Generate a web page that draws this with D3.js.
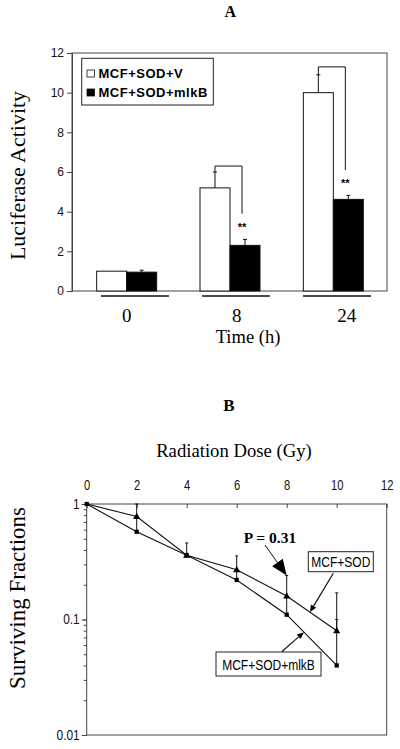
<!DOCTYPE html>
<html><head><meta charset="utf-8">
<script src="https://cdn.jsdelivr.net/npm/d3@7"></script>
<style>
body{margin:0;background:#fff;}
svg{display:block;}
</style></head><body>
<svg id="c" width="400" height="749"></svg>
<script>
// ---------- Panel A data ----------
const timeCategories = ["0", "8", "24"];
const seriesNamesA = ["MCF+SOD+V", "MCF+SOD+mlkB"];
const vectorValues = [1.0, 5.2, 10.0];
const mlkbValues = [0.95, 2.3, 4.62];
const vectorErrTop = [1.0, 6.0, 10.9];
const mlkbErrTop = [1.05, 2.6, 4.82];
const bracketTop = [null, 6.3, 11.3];
const bracketEnd = [null, 3.9, 6.1];
const yTicksA = [0, 2, 4, 6, 8, 10, 12];

// ---------- Panel B data ----------
const doses = [0, 2, 4, 6, 8, 10];
const sodFractions = [1.0, 0.78, 0.36, 0.27, 0.16, 0.08];
const sodMlkbFractions = [1.0, 0.575, 0.36, 0.22, 0.11, 0.04];
const sodErrTop = [1.0, 1.0, 0.46, 0.355, 0.24, 0.17];
const sodMlkbErrTop = [1.0, 0.78, 0.36, 0.27, 0.16, 0.10];
const xTicksB = [0, 2, 4, 6, 8, 10, 12];
const yTicksB = [1, 0.1, 0.01];

const SERIF = "'Liberation Serif','Times New Roman',serif";
const SANS = "'Liberation Sans',Arial,sans-serif";
const NARROW_SCALE = 0.8;
const FRAME = "#444";

const svg = d3.select("#c");

// ================= PANEL A =================
const A = {l: 72, r: 387, t: 53, b: 291};
const yA = d3.scaleLinear().domain([0, 12]).range([A.b, A.t]);
const xA = d3.scaleBand().domain(timeCategories).range([75, 385]);
const xA1 = d3.scaleBand().domain(seriesNamesA)
  .range([xA.bandwidth() / 2 - 30, xA.bandwidth() / 2 + 30]);
const xUnder = d3.scalePoint().domain(timeCategories).range([135, 337]);
const xLab = d3.scalePoint().domain(timeCategories).range([126.7, 346.8]);

svg.append("text").attr("x", 230.4).attr("y", 16.7).attr("text-anchor", "middle")
  .attr("font-family", SERIF).attr("font-weight", "bold").attr("font-size", 16).text("A");

svg.append("rect").attr("x", A.l).attr("y", A.t).attr("width", A.r - A.l).attr("height", A.b - A.t)
  .attr("fill", "none").attr("stroke", FRAME).attr("stroke-width", 1);

const gyA = svg.append("g").attr("transform", `translate(${A.l},0)`)
  .call(d3.axisLeft(yA).tickValues(yTicksA).tickSize(5).tickPadding(3).tickFormat(d3.format("d")));
gyA.select(".domain").attr("stroke", FRAME);
gyA.selectAll(".tick line").attr("stroke", FRAME);
gyA.selectAll("text").attr("font-family", SANS).attr("font-size", 12).attr("fill", "#111");

const cx = (cat, s) => xA(cat) + xA1(s) + xA1.bandwidth() / 2;

const barData = [];
timeCategories.forEach((c, i) => {
  barData.push({c, s: seriesNamesA[0], v: vectorValues[i], e: vectorErrTop[i], fill: "#fff"});
  barData.push({c, s: seriesNamesA[1], v: mlkbValues[i], e: mlkbErrTop[i], fill: "#000"});
});
svg.append("g").selectAll("rect").data(barData).join("rect")
  .attr("x", d => xA(d.c) + xA1(d.s)).attr("width", xA1.bandwidth())
  .attr("y", d => yA(d.v)).attr("height", d => yA(0) - yA(d.v))
  .attr("fill", d => d.fill).attr("stroke", "#111").attr("stroke-width", 1);

const eg = svg.append("g").attr("stroke", "#111").attr("stroke-width", 1);
barData.forEach(d => {
  if (d.e > d.v) {
    const x = cx(d.c, d.s);
    eg.append("line").attr("x1", x).attr("x2", x).attr("y1", yA(d.v)).attr("y2", yA(d.e));
    eg.append("line").attr("x1", x - 2).attr("x2", x + 2).attr("y1", yA(d.e)).attr("y2", yA(d.e));
  }
});

timeCategories.forEach((c, i) => {
  if (bracketTop[i] == null) return;
  const x1 = cx(c, seriesNamesA[0]);
  const x2 = cx(c, seriesNamesA[1]) - 3;
  svg.append("path")
    .attr("d", `M${x1},${yA(vectorErrTop[i])}V${yA(bracketTop[i])}H${x2}V${yA(bracketEnd[i])}`)
    .attr("fill", "none").attr("stroke", "#111").attr("stroke-width", 1);
  svg.append("text").attr("x", x2).attr("y", yA(bracketEnd[i]) + 17).attr("text-anchor", "middle")
    .attr("font-family", SANS).attr("font-weight", "bold").attr("font-size", 11).text("**");
});

timeCategories.forEach(c => {
  svg.append("line").attr("x1", xUnder(c) - 34).attr("x2", xUnder(c) + 34)
    .attr("y1", 296).attr("y2", 296).attr("stroke", "#111").attr("stroke-width", 1.5);
  svg.append("text").attr("x", xLab(c)).attr("y", 321.5).attr("text-anchor", "middle")
    .attr("font-family", SERIF).attr("font-size", 19).text(c);
});
svg.append("text").attr("x", 248).attr("y", 343).attr("text-anchor", "middle")
  .attr("font-family", SERIF).attr("font-size", 18.5).text("Time (h)");

svg.append("text").attr("transform", "translate(25,175.5) rotate(-90)").attr("text-anchor", "middle")
  .attr("font-family", SERIF).attr("font-size", 22).text("Luciferase Activity");

const lg = svg.append("g");
lg.append("rect").attr("x", 81.7).attr("y", 58.3).attr("width", 131.6).attr("height", 46.7)
  .attr("fill", "#fff").attr("stroke", "#222").attr("stroke-width", 1);
seriesNamesA.forEach((s, i) => {
  const yy = 73.5 + i * 19;
  lg.append("rect").attr("x", 87).attr("y", yy - 3.5).attr("width", 7.5).attr("height", 7)
    .attr("fill", i ? "#000" : "#fff").attr("stroke", "#111").attr("stroke-width", 0.8);
  lg.append("text").attr("x", 98.5).attr("y", yy + 4.7).attr("font-family", SANS)
    .attr("font-weight", "bold").attr("font-size", 13).attr("letter-spacing", 0.5).text(s);
});

// ================= PANEL B =================
const B = {l: 86.7, r: 386.7, t: 504, b: 735};
const xB = d3.scaleLinear().domain([0, 12]).range([B.l, B.r]);
const yB = d3.scaleLog().domain([0.01, 1]).range([B.b, B.t]);

svg.append("text").attr("x", 229).attr("y", 410.7).attr("text-anchor", "middle")
  .attr("font-family", SERIF).attr("font-weight", "bold").attr("font-size", 17).text("B");
svg.append("text").attr("x", 234).attr("y", 456.7).attr("text-anchor", "middle")
  .attr("font-family", SERIF).attr("font-size", 18.7).text("Radiation Dose (Gy)");

svg.append("rect").attr("x", B.l).attr("y", B.t).attr("width", B.r - B.l).attr("height", B.b - B.t)
  .attr("fill", "none").attr("stroke", FRAME).attr("stroke-width", 1);

const gxB = svg.append("g").attr("transform", `translate(0,${B.t})`)
  .call(d3.axisTop(xB).tickValues(xTicksB).tickSize(-4).tickPadding(14).tickFormat(d3.format("d")));
gxB.select(".domain").remove();
gxB.selectAll(".tick line").attr("stroke", FRAME);
gxB.selectAll("text").attr("font-family", SANS).attr("font-size", 14).attr("fill", "#111")
  .attr("transform", `scale(${NARROW_SCALE},1)`);

const gyBm = svg.append("g").attr("transform", `translate(${B.l},0)`)
  .call(d3.axisLeft(yB).tickValues(yB.ticks()).tickSize(3).tickFormat(""));
gyBm.select(".domain").remove();
gyBm.selectAll(".tick line").attr("stroke", FRAME);
const gyB = svg.append("g").attr("transform", `translate(${B.l},0)`)
  .call(d3.axisLeft(yB).tickValues(yTicksB).tickSize(5).tickPadding(0).tickFormat(d => String(d)));
gyB.select(".domain").remove();
gyB.selectAll(".tick line").attr("stroke", FRAME);
gyB.selectAll("text").attr("font-family", SANS).attr("font-size", 14).attr("fill", "#111")
  .attr("x", 0).attr("transform", `translate(-7,0) scale(0.85,1)`);

svg.append("text").attr("transform", "translate(25,598) rotate(-90)").attr("text-anchor", "middle")
  .attr("font-family", SERIF).attr("font-size", 23).text("Surviving Fractions");

const ebB = svg.append("g").attr("stroke", "#111").attr("stroke-width", 1);
[[sodFractions, sodErrTop], [sodMlkbFractions, sodMlkbErrTop]].forEach(([vals, tops]) => {
  doses.forEach((d, i) => {
    if (tops[i] > vals[i]) {
      const x = xB(d);
      ebB.append("line").attr("x1", x).attr("x2", x).attr("y1", yB(vals[i])).attr("y2", yB(tops[i]));
      ebB.append("line").attr("x1", x - 1.5).attr("x2", x + 1.5).attr("y1", yB(tops[i])).attr("y2", yB(tops[i]));
    }
  });
});

const lineB = d3.line().x(d => xB(d[0])).y(d => yB(d[1]));
[sodFractions, sodMlkbFractions].forEach(vals => {
  svg.append("path").datum(doses.map((d, i) => [d, vals[i]])).attr("d", lineB)
    .attr("fill", "none").attr("stroke", "#111").attr("stroke-width", 1.1);
});
svg.append("g").selectAll("path").data(doses.map((d, i) => [d, sodMlkbFractions[i]])).join("path")
  .attr("transform", d => `translate(${xB(d[0])},${yB(d[1])})`)
  .attr("d", d3.symbol(d3.symbolSquare).size(18)).attr("fill", "#000");
svg.append("g").selectAll("path").data(doses.map((d, i) => [d, sodFractions[i]]).slice(1)).join("path")
  .attr("transform", d => `translate(${xB(d[0])},${yB(d[1]) + 0.5})`)
  .attr("d", d3.symbol(d3.symbolTriangle).size(22)).attr("fill", "#000");

function arrow(x1, y1, x2, y2, len, hw, width) {
  const dx = x2 - x1, dy = y2 - y1, L = Math.hypot(dx, dy);
  const ux = dx / L, uy = dy / L;
  const bx = x2 - ux * len, by = y2 - uy * len;
  svg.append("line").attr("x1", x1).attr("y1", y1).attr("x2", bx).attr("y2", by)
    .attr("stroke", "#111").attr("stroke-width", width);
  svg.append("path")
    .attr("d", `M${x2},${y2}L${bx - uy * hw},${by + ux * hw}L${bx + uy * hw},${by - ux * hw}Z`)
    .attr("fill", "#000");
}

svg.append("text").attr("x", 270).attr("y", 543.3).attr("text-anchor", "middle")
  .attr("font-family", SERIF).attr("font-weight", "bold").attr("font-size", 15.5).text("P = 0.31");
arrow(265, 545, xB(8), yB(sodErrTop[4]), 16, 6.5, 1);

function narrowLabel(x, y, txt) {
  svg.append("text").attr("transform", `translate(${x},${y}) scale(${NARROW_SCALE},1)`)
    .attr("text-anchor", "middle").attr("font-family", SANS).attr("font-size", 15).text(txt);
}

const sodTip = [xB(8.93), yB(Math.exp(d3.interpolate(Math.log(sodFractions[4]), Math.log(sodFractions[5]))(0.465)))];
svg.append("rect").attr("x", 308.3).attr("y", 551.7).attr("width", 65).attr("height", 20)
  .attr("fill", "#fff").attr("stroke", "#222").attr("stroke-width", 1);
narrowLabel(340.8, 567, "MCF+SOD");
arrow(333.3, 573.3, sodTip[0], sodTip[1], 7, 3, 1.2);

const mTip = [xB(8.69), yB(Math.exp(d3.interpolate(Math.log(sodMlkbFractions[4]), Math.log(sodMlkbFractions[5]))(0.345)))];
svg.append("rect").attr("x", 216).attr("y", 652).attr("width", 105).attr("height", 24)
  .attr("fill", "#fff").attr("stroke", "#222").attr("stroke-width", 1);
narrowLabel(268.5, 669.5, "MCF+SOD+mlkB");
arrow(281.7, 651.7, mTip[0], mTip[1], 7, 3, 1.2);
</script>
</body></html>
